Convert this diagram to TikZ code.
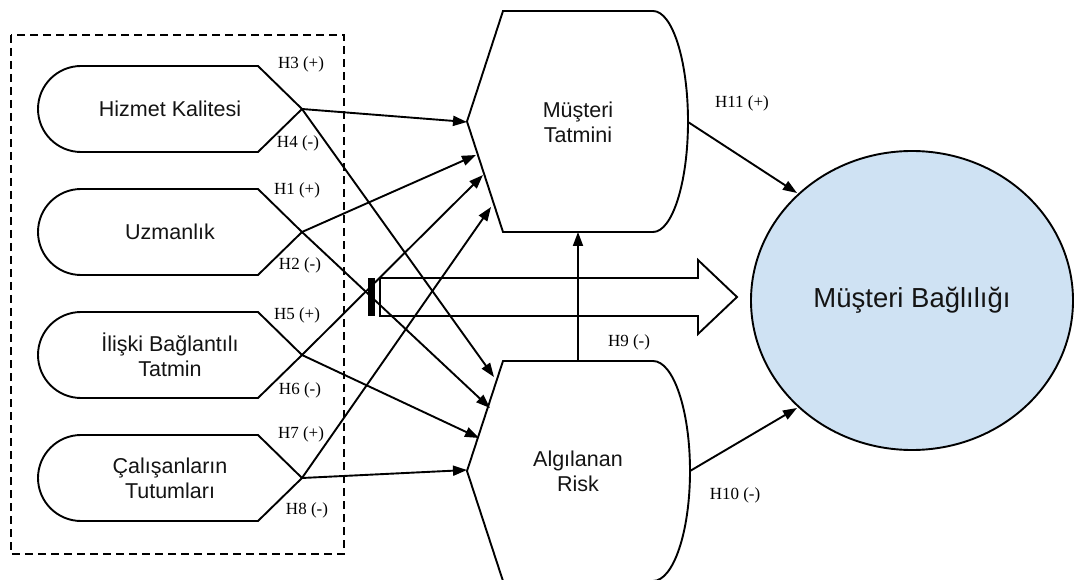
\documentclass[tikz,border=0pt]{standalone}
\usepackage{fontspec}
\setmainfont{Liberation Sans}
\newfontfamily\serifl{Liberation Serif}
\usetikzlibrary{arrows.meta,shapes.geometric}
\definecolor{circfill}{HTML}{CFE2F3}
\tikzset{
 shp/.style={draw=black, line width=1.9pt, fill=white, line join=miter},
 conn/.style={line width=1.9pt, -{Triangle[length=14pt,width=10pt]}},
 plainln/.style={line width=1.9pt},
 lbl/.style={font=\serifl\fontsize{17}{20}\selectfont, inner sep=0pt},
 txt/.style={font=\fontsize{21.5}{25}\selectfont, align=center, inner sep=0pt, text=black!92},
}
\begin{document}
\begin{tikzpicture}[x=1pt,y=-1pt]
\useasboundingbox (0,0) rectangle (1077,580);
% dashed group box
\draw[line width=1.9pt, dash pattern=on 8pt off 5pt] (11,35) rectangle (344,554);
% left input shapes
\draw[shp] (81,66) -- (258,66) -- (302,109) -- (258,152) -- (81,152) .. controls (57.3,152) and (38,132.7) .. (38,109) .. controls (38,85.3) and (57.3,66) .. cycle;
\draw[shp] (81,189) -- (258,189) -- (302,232) -- (258,275) -- (81,275) .. controls (57.3,275) and (38,255.7) .. (38,232) .. controls (38,208.3) and (57.3,189) .. cycle;
\draw[shp] (81,312) -- (258,312) -- (302,355) -- (258,398) -- (81,398) .. controls (57.3,398) and (38,378.7) .. (38,355) .. controls (38,331.3) and (57.3,312) .. cycle;
\draw[shp] (81,435) -- (258,435) -- (302,478) -- (258,521) -- (81,521) .. controls (57.3,521) and (38,501.7) .. (38,478) .. controls (38,454.3) and (57.3,435) .. cycle;
\coordinate (hk) at (302,109);
\coordinate (uz) at (302,232);
\coordinate (il) at (302,355);
\coordinate (cal) at (302,478);
\node[txt] (t1) at (170,109) {Hizmet Kalitesi};
\node[txt] (t2) at (170,232) {Uzmanlık};
\node[txt] (t3) at (170,355) {İlişki Bağlantılı\\Tatmin};
\node[txt] (t4) at (170,478) {Çalışanların\\Tutumları};
% middle shapes
\draw[shp] (503,11) -- (653,11) .. controls (672.3,11) and (688,60.5) .. (688,121.5) .. controls (688,182.5) and (672.3,232) .. (653,232) -- (503,232) -- (467,121.5) -- cycle;
\draw[shp] (503,361) -- (653,361) .. controls (673.4,361) and (690,410.2) .. (690,471) .. controls (690,531.8) and (673.4,581) .. (653,581) -- (503,581) -- (467,471) -- cycle;
\node[txt] (t5) at (578,122) {Müşteri\\Tatmini};
\node[txt] (t6) at (578,471) {Algılanan\\Risk};
% outcome ellipse
\node[draw, ellipse, line width=1.9pt, fill=circfill, minimum width=322pt, minimum height=299pt, inner sep=0pt, font=\fontsize{27.5}{32}\selectfont, text=black!92] (mb) at (912,300.5) {Müşteri Bağlılığı};
% block arrow
\fill (368,278) rectangle (375,316);
\draw[plainln, line join=miter] (380,278) -- (698,278) -- (698,260) -- (737,297) -- (698,334) -- (698,316) -- (380,316) -- cycle;
% coordinates for connector ends
\coordinate (mt1) at (467,122);
\coordinate (mt2) at (476,155);
\coordinate (mt3) at (483,175);
\coordinate (mt4) at (491,207);
\coordinate (ar1) at (494,377);
\coordinate (ar2) at (490,408);
\coordinate (ar3) at (479,438);
\coordinate (ar4) at (467,470);
\coordinate (artop) at (578,361);
\coordinate (mtbot) at (578,232);
\coordinate (mtr) at (688,122);
\coordinate (arr) at (690,471);
\coordinate (mb1) at (797,193);
\coordinate (mb2) at (797,408);
% connectors
\draw[conn] (hk) -- (mt1);
\draw[conn] (hk) -- (ar1);
\draw[conn] (uz) -- (mt2);
\draw[conn] (uz) -- (ar2);
\draw[conn] (il) -- (mt3);
\draw[conn] (il) -- (ar3);
\draw[conn] (cal) -- (mt4);
\draw[conn] (cal) -- (ar4);
\draw[conn] (artop) -- (mtbot);
\draw[conn] (mtr) -- (mb1);
\draw[conn] (arr) -- (mb2);
% labels
\node[lbl] (h3) at (301,64) {H3 (+)};
\node[lbl] (h4) at (298,143) {H4 (-)};
\node[lbl] (h1) at (297,190) {H1 (+)};
\node[lbl] (h2) at (300,265) {H2 (-)};
\node[lbl] (h5) at (297,315) {H5 (+)};
\node[lbl] (h6) at (300,390) {H6 (-)};
\node[lbl] (h7) at (301,434) {H7 (+)};
\node[lbl] (h8) at (307,510) {H8 (-)};
\node[lbl] (h11) at (742,103) {H11 (+)};
\node[lbl] (h10) at (735,495) {H10 (-)};
\node[lbl] (h9) at (629,342) {H9 (-)};
\end{tikzpicture}
\end{document}
